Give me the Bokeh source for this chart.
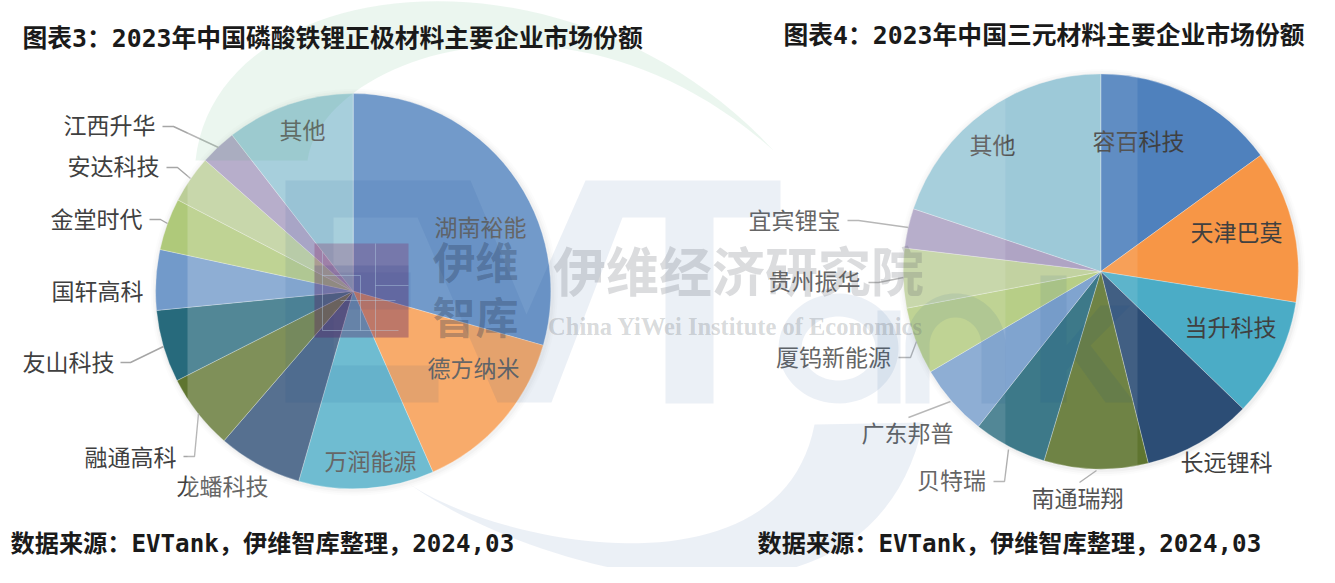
import numpy as np
from bokeh.plotting import figure
from bokeh.models import Range1d
from bokeh.core.properties import value
from bokeh.embed import file_html
from bokeh.resources import INLINE

# ---------- data ----------
left_names = ["湖南裕能", "德方纳米", "万润能源", "龙蟠科技", "融通高科", "友山科技", "国轩高科", "金堂时代", "安达科技", "江西升华", "其他"]
left_share = [29.42, 13.97, 11.06, 6.89, 6.19, 5.92, 4.94, 4.25, 3.89, 2.97, 10.5]
right_names = ["容百科技", "天津巴莫", "当升科技", "长远锂科", "南通瑞翔", "贝特瑞", "广东邦普", "厦钨新能源", "贵州振华", "宜宾锂宝", "其他"]
right_share = [15.0, 12.5, 9.72, 8.92, 8.5, 6.0, 5.89, 5.5, 4.86, 3.25, 19.86]
slice_colors = ["#4f81bd", "#f79646", "#4bacc6", "#2c4d75", "#5f7530", "#276a7c", "#729aca", "#afc97a", "#bbcd97", "#a69abe", "#92c3d4"]

# ---------- layout (reference pixels) ----------
H = 567
def Y(v):
    return H - np.asarray(v, dtype=float)

left_c, right_c, R = (352.7, 290.7), (1100.3, 271.0), 197.6
left_label_xy = [(480, 225), (473, 366), (370, 459), (222, 484), (130, 455), (68, 360), (97, 289), (96, 217), (113, 164), (109, 123), (302, 128)]
right_label_xy = [(1138, 139), (1236, 230), (1230, 325), (1226, 460), (1077, 496), (951, 478), (907, 431), (833, 355), (814, 279), (794, 218), (992, 143)]
leaders = [
    [(162, 126), (173, 126), (218, 147)], [(166, 167), (177, 167), (190, 178)], [(149, 219), (160, 219), (167, 223)],
    [(120, 362), (130, 362), (163, 346)], [(183, 456), (194, 456), (198, 413)],
    [(847, 220), (858, 220), (908, 227)], [(868, 282), (878, 282), (903, 277)], [(898, 357), (910, 357), (916, 341)],
    [(908, 417), (950, 401)], [(993, 481), (1004, 481), (1008, 449)], [(1079, 482), (1096, 470)],
]

p = figure(width=1319, height=567, output_backend="svg", toolbar_location=None,
           x_range=Range1d(0, 1319), y_range=Range1d(0, H), min_border=0)
p.axis.visible = False
p.grid.visible = False
p.outline_line_color = None
p.background_fill_color = "white"
p.border_fill_color = "white"

CJK = value("Noto Sans CJK SC")
MIX = value('"DejaVu Sans Mono", "Noto Sans CJK SC"')

def bez(a, b, c, d, n=50):
    t = np.linspace(0, 1, n)[:, None]
    a, b, c, d = map(np.array, (a, b, c, d))
    return (1 - t) ** 3 * a + 3 * (1 - t) ** 2 * t * b + 3 * (1 - t) * t ** 2 * c + t ** 3 * d

def poly(pts, color, alpha):
    pts = np.asarray(pts, dtype=float)
    p.patch(pts[:, 0], Y(pts[:, 1]), fill_color=color, fill_alpha=alpha, line_color=None)

def ring(cx, cy, rx, ry, th, a0=0, a1=360):
    a = np.radians(np.linspace(a0, a1, 70))
    outer = np.c_[cx + rx * np.cos(a), cy + ry * np.sin(a)]
    inner = np.c_[cx + (rx - th) * np.cos(a), cy + (ry - th) * np.sin(a)][::-1]
    return np.vstack([outer, inner])

# soft shadow
for c in (left_c, right_c):
    for dr, al in ((6, .012), (4, .02), (2, .03)):
        p.circle([c[0] + 1], [H - c[1] - 1], radius=R + dr, fill_color="#000000", fill_alpha=al, line_color=None)

# pies
for c, share in ((left_c, left_share), (right_c, right_share)):
    frac = np.asarray(share) / np.sum(share) * 2 * np.pi
    ends = np.cumsum(frac)
    starts = ends - frac
    p.wedge(x=[c[0]] * len(share), y=[H - c[1]] * len(share), radius=R,
            start_angle=np.pi / 2 - starts, end_angle=np.pi / 2 - ends, direction="clock",
            fill_color=slice_colors, line_color="#ffffff", line_alpha=0.35, line_width=0.8)

# leader lines
for seg in leaders:
    s = np.array(seg, dtype=float)
    p.line(s[:, 0], Y(s[:, 1]), line_color="#a6a6a6", line_width=1.4)

# data labels
for names, xy in ((left_names, left_label_xy), (right_names, right_label_xy)):
    xy = np.array(xy, dtype=float)
    p.text(xy[:, 0], Y(xy[:, 1]), text=names, text_font=CJK, text_font_size="23px", text_color="#404040",
           text_align="center", text_baseline="middle")

# semi-transparent watermark picture
p.quad(left=[187], right=[1005], bottom=[0], top=[H], fill_color="white", fill_alpha=0.2, line_color=None)
p.quad(left=[1005], right=[1137], bottom=[0], top=[H], fill_color="white", fill_alpha=0.1, line_color=None)

INK, INK_A = "#003c8c", 0.08
poly([(285, 180), (470, 180), (526, 314), (585, 180), (780, 180), (780, 217), (713, 217), (713, 403), (665, 403), (665, 217),
      (622, 217), (551, 402), (497, 402), (417, 217), (333, 217), (333, 272), (410, 272), (410, 309), (333, 309), (333, 365),
      (438, 365), (438, 402), (285, 402)], INK, INK_A)
poly(ring(838, 348, 60, 55, 23), INK, INK_A)
poly([(877, 310), (900, 310), (900, 403), (877, 403)], INK, INK_A)
poly(np.vstack([[(905, 403)], ring(955, 345, 50, 52, 24, 180, 360)[:70], [(1005, 403), (981, 403)], ring(955, 345, 50, 52, 24, 180, 360)[70:], [(929, 403)]]), INK, INK_A)
poly([(1040, 275), (1066, 275), (1066, 345), (1100, 305), (1130, 305), (1090, 345), (1134, 402), (1105, 402), (1075, 360), (1066, 370), (1066, 402), (1040, 402)], INK, INK_A)
poly(np.vstack([bez((408, 483), (530, 570), (870, 670), (923, 422)), bez((408, 483), (500, 545), (780, 600), (814, 424))[::-1]]), INK, INK_A)
poly(np.vstack([bez((195, 160), (215, -30), (570, -70), (773, 150)), bez((307, 160), (320, 60), (565, -35), (773, 150))[::-1]]), "#3caa64", 0.1)

# logo block
p.quad(left=[314], right=[408], bottom=[H - 337], top=[H - 243], fill_color="#821450", fill_alpha=0.25, line_color=None)
p.quad(left=[314], right=[408], bottom=[H - 337], top=[H - 265], fill_color="#1e3282", fill_alpha=0.15, line_color=None)
for seg in ([(322, 251), (322, 330), (398, 330)], [(322, 275), (360, 275), (360, 330)], [(375, 243), (375, 337)], [(375, 285), (408, 285)], [(340, 300), (395, 300)]):
    s = np.array(seg, dtype=float)
    p.line(s[:, 0], Y(s[:, 1]), line_color="#bcd6ea", line_alpha=0.4, line_width=1)

# watermark words
p.text([475], [Y(259)], text=["伊维"], text_font=CJK, text_font_style="bold", text_font_size="43px", text_color="#2c3a56", text_alpha=0.33, text_align="center", text_baseline="middle")
p.text([475], [Y(314)], text=["智库"], text_font=CJK, text_font_style="bold", text_font_size="43px", text_color="#2c3a56", text_alpha=0.33, text_align="center", text_baseline="middle")
p.text([738], [Y(268)], text=["伊维经济研究院"], text_font=CJK, text_font_style="bold", text_font_size="53px", text_color="#5a6068", text_alpha=0.22, text_align="center", text_baseline="middle")
p.text([735], [Y(326)], text=["China YiWei Institute of Economics"], text_font=value("Liberation Serif"), text_font_style="bold", text_font_size="24.5px", text_color="#5a6068", text_alpha=0.24, text_align="center", text_baseline="middle")

# titles and sources
for x, yy, txt, size in ((22, 38, "图表3：2023年中国磷酸铁锂正极材料主要企业市场份额", "24.8px"),
                         (783, 35, "图表4：2023年中国三元材料主要企业市场份额", "24.8px"),
                         (10, 543, "数据来源：EVTank，伊维智库整理，2024,03", "24.2px"),
                         (757, 543, "数据来源：EVTank，伊维智库整理，2024,03", "24.2px")):
    p.text([x], [Y(yy)], text=[txt], text_font=MIX, text_font_style="bold", text_font_size=size,
           text_color="#1a1a1a", text_align="left", text_baseline="middle")

open("out.html", "w").write(file_html(p, INLINE))
